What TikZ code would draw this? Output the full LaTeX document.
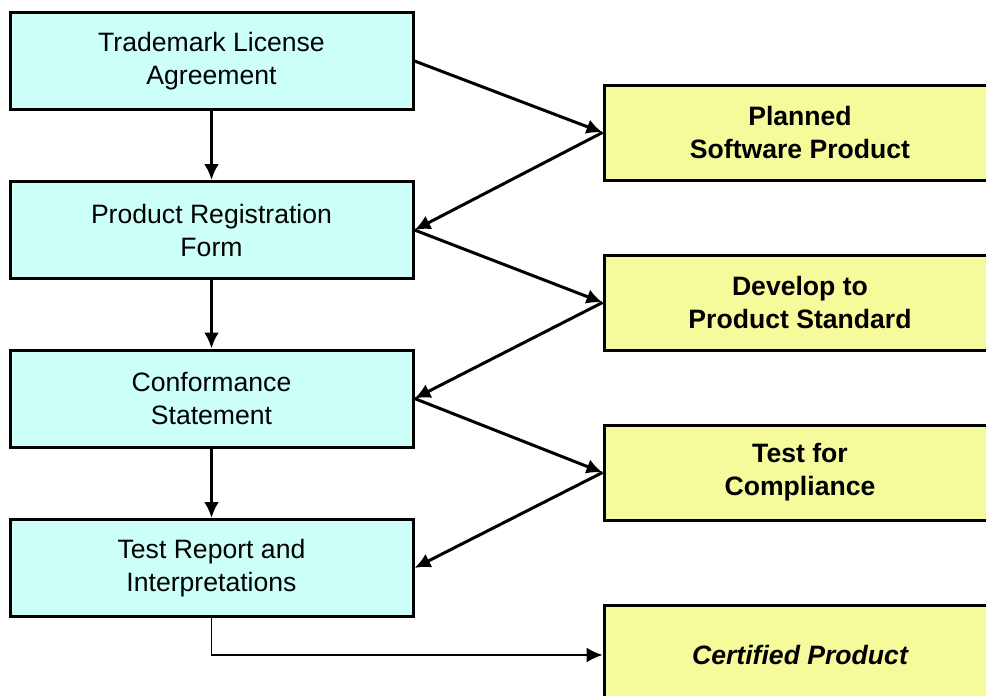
\documentclass[tikz,border=0pt]{standalone}
\usepackage{fontspec}
\setmainfont{Liberation Sans}
\usetikzlibrary{arrows.meta}
\definecolor{cyanfill}{RGB}{204,255,248}
\definecolor{yellowfill}{RGB}{245,250,155}
\tikzset{
  docbox/.style={draw=black, line width=1.5pt, fill=cyanfill, minimum width=201.5pt, minimum height=48.5pt, align=center, inner sep=0pt, font=\fontsize{13.3}{16.5}\selectfont},
  stagebox/.style={draw=black, line width=1.5pt, fill=yellowfill, minimum width=196pt, minimum height=47.5pt, align=center, inner sep=0pt, font=\fontsize{13.3}{16.5}\selectfont\bfseries},
  flow/.style={line width=1.5pt, -{Latex[length=8pt,width=7.5pt]}},
  thinflow/.style={line width=0.75pt, -{Latex[length=8pt,width=7.5pt]}}
}
\begin{document}
\begin{tikzpicture}[x=0.5pt,y=-0.5pt]
\useasboundingbox (0,0) rectangle (986,696);
\clip (0,0) rectangle (986,696);
\node[docbox] (L1) at (211.5,61) {Trademark License\\Agreement};
\node[docbox] (L2) at (211.5,230) {Product Registration\\Form};
\node[docbox] (L3) at (211.5,398.5) {Conformance\\Statement};
\node[docbox] (L4) at (211.5,568) {Test Report and\\Interpretations};
\node[stagebox] (R1) at (800,132.5) {Planned\\Software Product};
\node[stagebox] (R2) at (800,302.5) {Develop to\\Product Standard};
\node[stagebox] (R3) at (800,472.5) {Test for\\Compliance};
\node[stagebox, minimum height=50pt] (R4) at (800,655) {\itshape Certified Product};
\draw[flow] (L1) -- (L2);
\draw[flow] (L2) -- (L3);
\draw[flow] (L3) -- (L4);
\draw[flow] (L1.east) -- (R1.west);
\draw[flow] (R1.west) -- (L2.east);
\draw[flow] (L2.east) -- (R2.west);
\draw[flow] (R2.west) -- (L3.east);
\draw[flow] (L3.east) -- (R3.west);
\draw[flow] (R3.west) -- (L4.east);
\draw[thinflow] (L4.south) |- (R4.west);
\end{tikzpicture}
\end{document}
